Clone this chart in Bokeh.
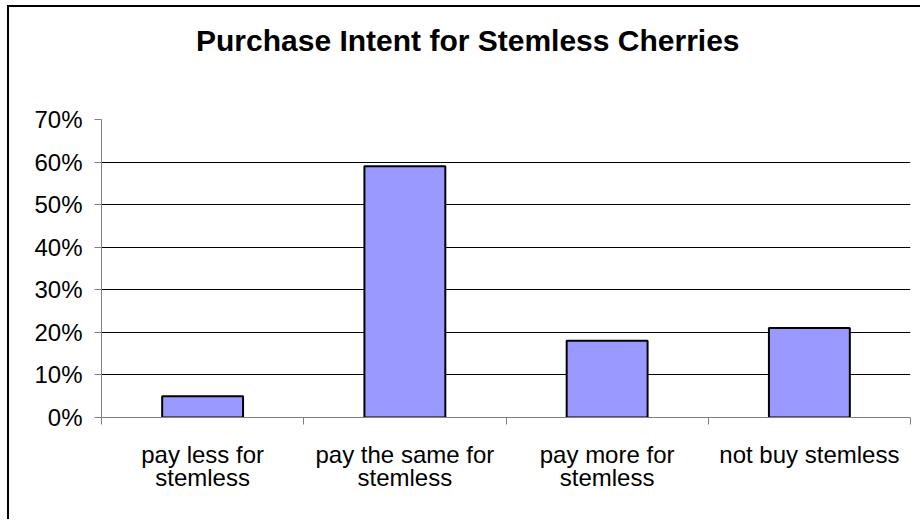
from bokeh.plotting import figure
from bokeh.models import FixedTicker, NumeralTickFormatter, Range1d, ColumnDataSource, Div
from bokeh.layouts import column
from bokeh.embed import file_html
from bokeh.resources import INLINE

title_text = "Purchase Intent for Stemless Cherries"
categories = ["pay less for\nstemless", "pay the same for\nstemless", "pay more for\nstemless", "not buy stemless"]
values = [0.05, 0.59, 0.18, 0.21]
y_ticks = [0, 0.1, 0.2, 0.3, 0.4, 0.5, 0.6, 0.7]

xs = [i + 0.5 for i in range(len(categories))]
src = ColumnDataSource(dict(x=xs, top=values))

title = Div(text='<div style="position:absolute; left:191px; top:18px; white-space:nowrap; '
                 'font-family:\'Liberation Sans\'; font-size:30px; font-weight:bold; '
                 'line-height:36px; color:black;">' + title_text + '</div>',
            width=912, height=50)

p = figure(width=912, height=459, output_backend="svg", toolbar_location=None,
           x_range=Range1d(0, len(categories)), y_range=Range1d(0, 0.7),
           min_border_left=101, min_border_right=2, min_border_top=59, min_border_bottom=102)
p.outline_line_color = None
p.background_fill_color = "white"
p.border_fill_color = None

p.vbar(x="x", top="top", width=0.4, bottom=0, source=src,
       fill_color="#9999FF", line_color="black", line_width=2)

# y axis
p.yaxis.ticker = FixedTicker(ticks=y_ticks)
p.yaxis.formatter = NumeralTickFormatter(format="0%")
p.yaxis.axis_line_color = "#808080"
p.yaxis.major_tick_line_color = "#808080"
p.yaxis.major_tick_in = 0
p.yaxis.major_tick_out = 7
p.yaxis.minor_tick_line_color = None
p.yaxis.major_label_text_font = "Liberation Sans"
p.yaxis.major_label_text_font_size = "24px"
p.yaxis.major_label_text_color = "black"
p.yaxis.major_label_standoff = 12

# x axis
p.xaxis.ticker = FixedTicker(ticks=xs, minor_ticks=list(range(len(categories) + 1)))
p.xaxis.major_label_overrides = {x: c for x, c in zip(xs, categories)}
p.xaxis.axis_line_color = "#808080"
p.xaxis.major_tick_line_color = None
p.xaxis.minor_tick_line_color = "#808080"
p.xaxis.minor_tick_in = 0
p.xaxis.minor_tick_out = 7
p.xaxis.major_label_text_font = "Liberation Sans"
p.xaxis.major_label_text_font_size = "24px"
p.xaxis.major_label_text_color = "black"
p.xaxis.major_label_text_line_height = 0.87
p.xaxis.major_label_standoff = 16

p.xgrid.grid_line_color = None
p.ygrid.ticker = FixedTicker(ticks=y_ticks)
p.ygrid.grid_line_color = "black"
p.ygrid.grid_line_width = 1

layout = column(title, p, spacing=0)
layout.styles = {"background": "linear-gradient(#000,#000) 7px 5px / 2px 700px no-repeat, "
                               "linear-gradient(#000,#000) 7px 5px / 1200px 2px no-repeat, #fff"}

open("out.html", "w").write(file_html(layout, INLINE))
